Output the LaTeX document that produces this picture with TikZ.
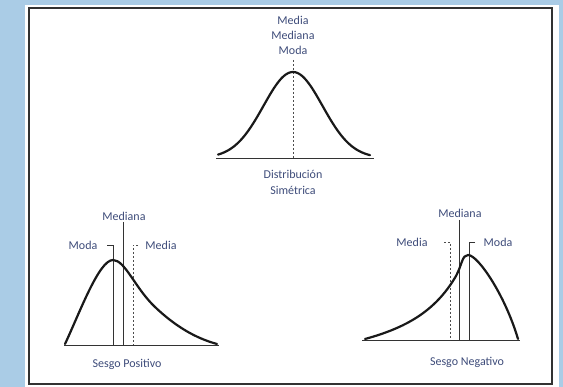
\documentclass[tikz,border=0pt]{standalone}
\usepackage{fontspec}
\setmainfont{Carlito}
\definecolor{bgblue}{RGB}{170,204,230}
\definecolor{txt}{RGB}{62,76,122}
\definecolor{frame}{RGB}{50,50,50}
\tikzset{
  lbl/.style={text=txt,font=\fontsize{12}{13}\selectfont,inner sep=0pt,anchor=center},
  curve/.style={line width=2.2pt,black!90,line cap=round},
  base/.style={line width=0.8pt,black!80},
  mark line/.style={line width=0.8pt,black!80},
  mean line/.style={line width=0.8pt,black!70,dash pattern=on 2pt off 2pt},
}
\begin{document}
\begin{tikzpicture}[x=1pt,y=-1pt]
\useasboundingbox (0,0) rectangle (563,387);
\fill[bgblue] (0,0) rectangle (563,387);
\fill[white] (25,5) rectangle (559,387);
\draw[frame,line width=1.5pt] (29,8) rectangle (552,384);

% ---------- symmetric ----------
\node[lbl] (sMedia) at (293,20) {Media};
\node[lbl] (sMediana) at (293,35) {Mediana};
\node[lbl] (sModa) at (293,50) {Moda};
\node[lbl] (sDist) at (293,174) {Distribución};
\node[lbl] (sSim) at (293,190) {Simétrica};
\coordinate (sTop) at (293,60);
\coordinate (sBot) at (293,158);
\coordinate (sL) at (216,158);
\coordinate (sR) at (374,158);
\draw[base] (sL) -- (sR);
\draw[mean line] (sTop) -- (sBot);
\draw[curve] plot[domain=218:370,samples=80,smooth] (\x,{158-86*exp(-((\x-293)/29.5)^2/2)});

% ---------- positive skew ----------
\node[lbl] (pMediana) at (124,216) {Mediana};
\node[lbl] (pModa) at (83,245) {Moda};
\node[lbl] (pMedia) at (161,245) {Media};
\node[lbl] (pSesgo) at (127,364) {Sesgo Positivo};
\coordinate (pL) at (64,345);
\coordinate (pR) at (219,345);
\draw[base] (pL) -- (pR);
\coordinate (pModaT) at (113,245);
\coordinate (pModaB) at (113,345);
\coordinate (pModaK) at (107,245);
\coordinate (pMedT) at (123,222);
\coordinate (pMedB) at (123,345);
\coordinate (pMeanT) at (133,245);
\coordinate (pMeanB) at (133,345);
\coordinate (pMeanK) at (138,245);
\draw[mark line] (pModaK) -- (pModaT) -- (pModaB);
\draw[mark line] (pMedT) -- (pMedB);
\draw[mean line] (pMeanK) -- (pMeanT) -- (pMeanB);
\coordinate (pS) at (65,344);
\coordinate (pPk) at (113,260);
\coordinate (pM) at (155,307);
\coordinate (pE) at (217,344);
\draw[curve] (pS) .. controls (80,312) and (99,260) .. (pPk)
  .. controls (125,260) and (135,288) .. (pM)
  .. controls (175,326) and (195,338) .. (pE);

% ---------- negative skew ----------
\node[lbl] (nMediana) at (460,213) {Mediana};
\node[lbl] (nMedia) at (412,242) {Media};
\node[lbl] (nModa) at (498,242) {Moda};
\node[lbl] (nSesgo) at (467,362) {Sesgo Negativo};
\coordinate (nL) at (362,340);
\coordinate (nR) at (520,340);
\draw[base] (nL) -- (nR);
\coordinate (nMeanK) at (444,242);
\coordinate (nMeanT) at (450,242);
\coordinate (nMeanB) at (450,340);
\coordinate (nMedT) at (459,220);
\coordinate (nMedB) at (459,340);
\coordinate (nModaT) at (469,242);
\coordinate (nModaB) at (469,340);
\coordinate (nModaK) at (475,242);
\draw[mean line] (nMeanK) -- (nMeanT) -- (nMeanB);
\draw[mark line] (nMedT) -- (nMedB);
\draw[mark line] (nModaK) -- (nModaT) -- (nModaB);
\coordinate (nS) at (365,339);
\coordinate (nM) at (456,276);
\coordinate (nPk) at (468,255);
\coordinate (nE) at (518,339);
\draw[curve] (nS) .. controls (405,328) and (435,312) .. (nM)
  .. controls (462,265) and (462,255) .. (nPk)
  .. controls (478,255) and (505,295) .. (nE);
\end{tikzpicture}
\end{document}
